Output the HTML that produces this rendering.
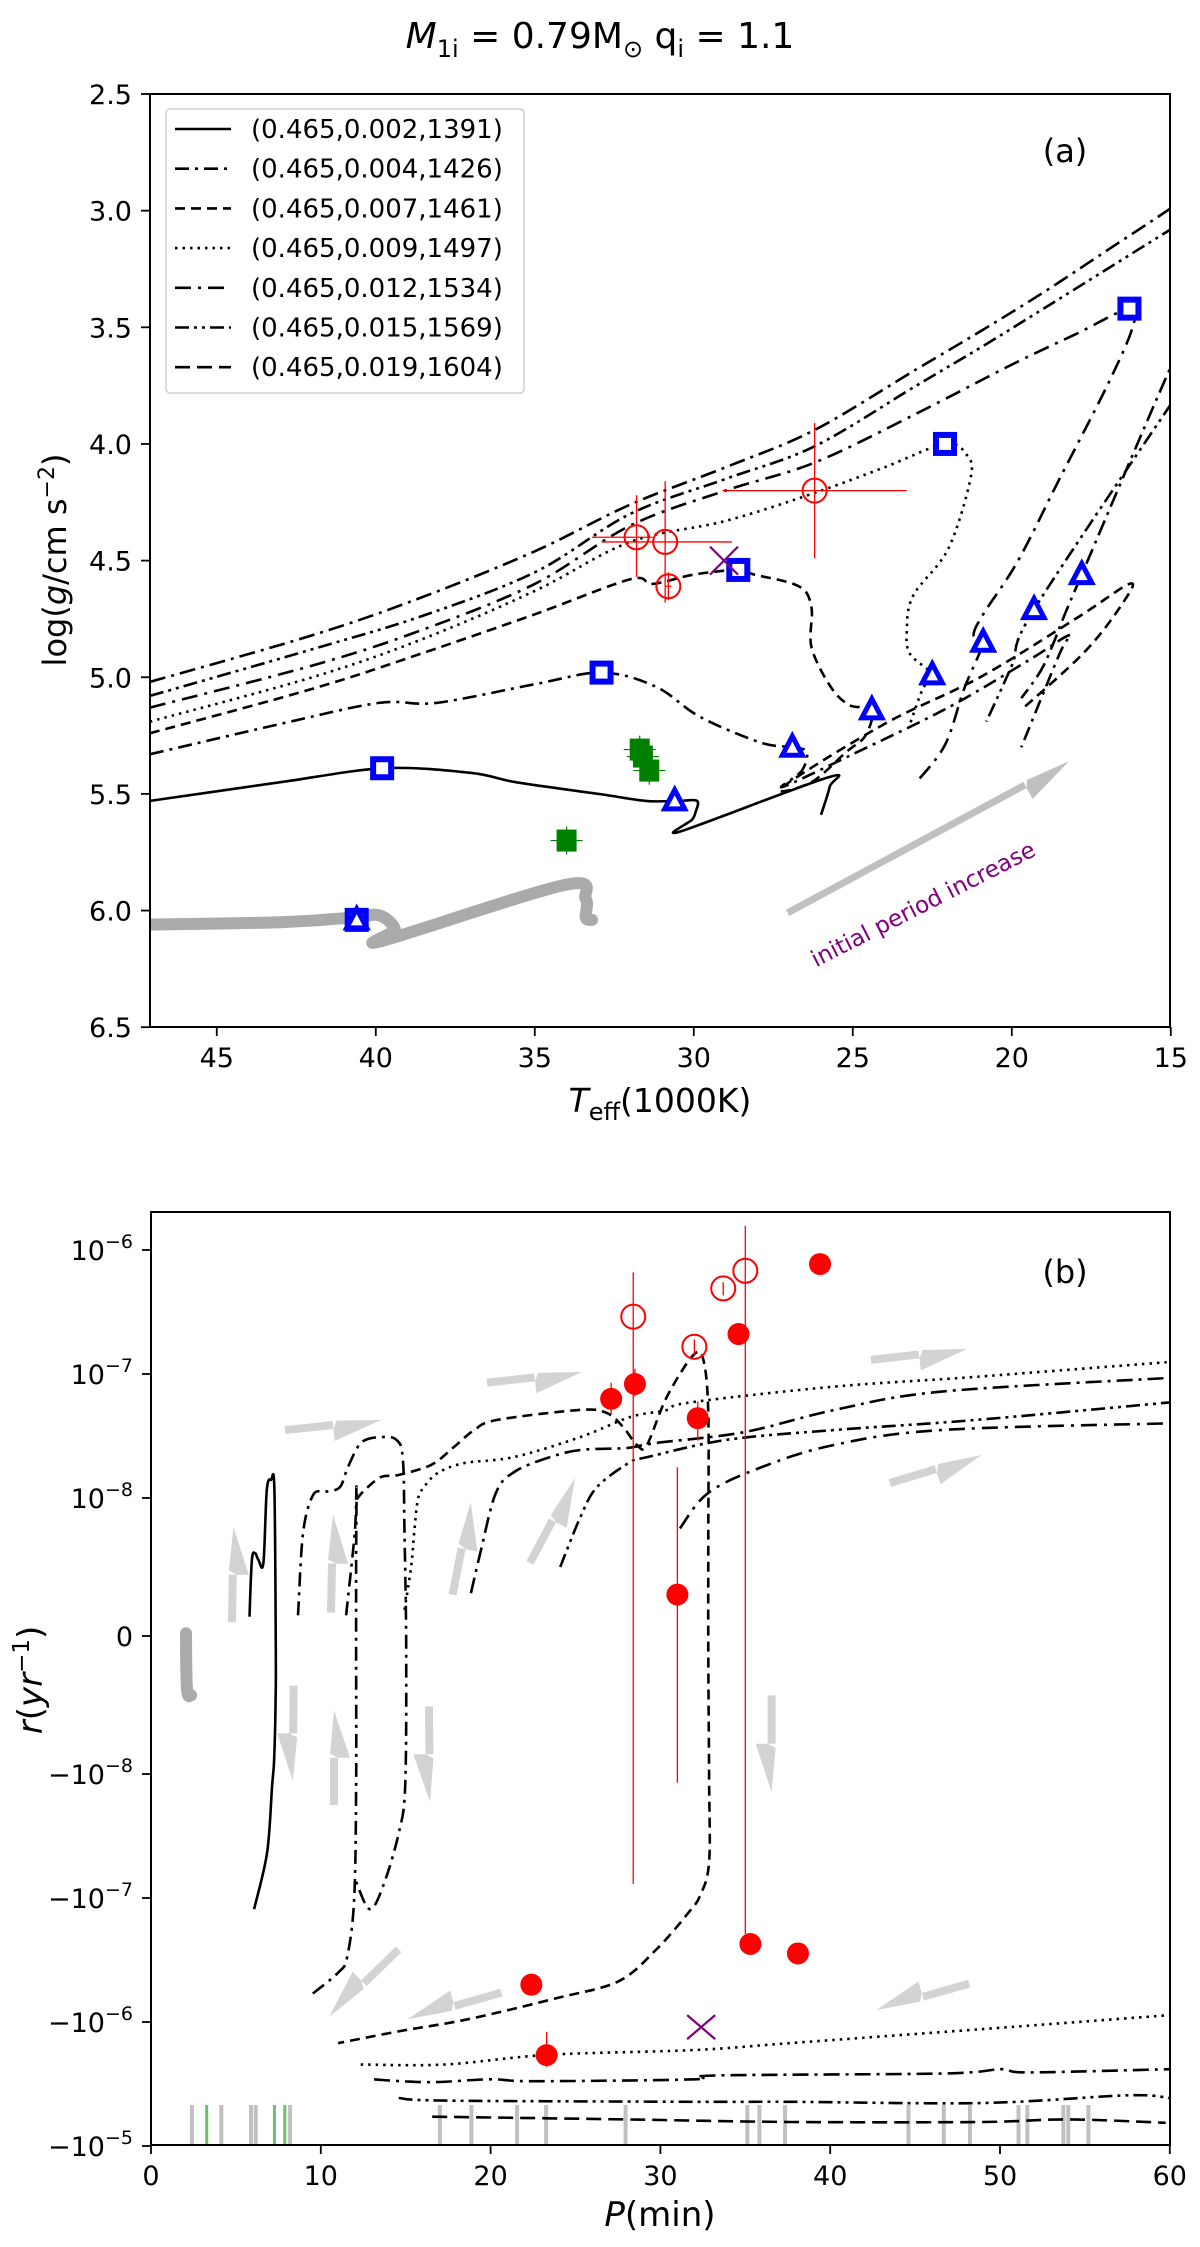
<!DOCTYPE html>
<html><head><meta charset="utf-8"><style>
html,body{margin:0;padding:0;background:#fff}
svg{display:block}
text{font-family:"DejaVu Sans","Liberation Sans",sans-serif}
</style></head><body>
<svg id="fig" width="1200" height="2247" viewBox="0 0 1200 2247" xmlns="http://www.w3.org/2000/svg">
<defs>
<clipPath id="clipTop"><rect x="150" y="94" width="1020" height="933"/></clipPath>
<clipPath id="clipBot"><rect x="151" y="1212" width="1019" height="933"/></clipPath>
</defs>
<text x="600" y="48" text-anchor="middle" font-size="36"><tspan font-style="italic">M</tspan><tspan font-size="24" dy="9">1i</tspan><tspan dy="-9"> = 0.79M</tspan><tspan font-size="24" dy="9">⊙</tspan><tspan dy="-9"> q</tspan><tspan font-size="24" dy="9">i</tspan><tspan dy="-9"> = 1.1</tspan></text>
<g id="panelTop"></g>
<g id="panelBot"></g>
</svg>
<script>
// ---------- Panel (a) data ----------
const topXTicks = [45,40,35,30,25,20,15];
const topYTicks = [2.5,3.0,3.5,4.0,4.5,5.0,5.5,6.0,6.5];
const legendLabels = ["(0.465,0.002,1391)","(0.465,0.004,1426)","(0.465,0.007,1461)","(0.465,0.009,1497)","(0.465,0.012,1534)","(0.465,0.015,1569)","(0.465,0.019,1604)"];
const trkSolidT = [47.1,43,39.74,37,35.6,33,31.5,30.5,29.9,29.95,30.05,30.4,25.8,25.73,26.0];
const trkSolidG = [5.53,5.45,5.39,5.41,5.45,5.50,5.53,5.53,5.53,5.58,5.61,5.66,5.43,5.47,5.59];
const trkDDT = [47.1,43,39.9,38.1,35,32.9,31.2,29.8,27.9,26.9,26.45,26.6,27.2,25,22,19.5,18.2,18.5,19.7];
const trkDDG = [5.33,5.2,5.11,5.11,5.03,4.98,5.04,5.17,5.28,5.30,5.32,5.40,5.47,5.33,5.13,4.93,4.82,4.9,5.3];
const trkL1T = [47.1,42,38.6,35,32,29,26.2,23,20.9,19,17,15,14.6,14.6,15,17.8,18.3,19.0,19.7];
const trkL1G = [5.02,4.82,4.66,4.46,4.26,4.10,3.94,3.68,3.51,3.35,3.17,2.99,2.95,3.6,3.67,4.56,4.72,4.95,5.09];
const trkL2T = [47.1,42,38.6,35,32,29,26.2,23,20.9,19,17,15,14.6,14.6,15,19.3,20.0,20.8];
const trkL2G = [5.08,4.88,4.74,4.55,4.30,4.15,4.01,3.75,3.58,3.42,3.25,3.08,3.05,3.75,3.83,4.71,4.95,5.19];
const trkL3T = [47.1,42,38.6,35,32,29,26.2,23,20,18,16.3,16.2,17,18.5,19.8,20.9,21.2,20.9,21.5,22.1,23.0];
const trkL3G = [5.13,4.95,4.80,4.6,4.35,4.2,4.08,3.87,3.66,3.53,3.42,3.5,3.75,4.15,4.5,4.73,4.82,4.85,5.05,5.29,5.45];
const trkDotT = [47.1,42,38.6,35,32,29,26.2,24,22.1,21.4,21.3,22,23.1,23.3,23.2,22.5,22.8,23.2];
const trkDotG = [5.19,5.0,4.84,4.63,4.42,4.33,4.21,4.1,4.0,4.05,4.15,4.45,4.65,4.8,4.9,4.99,5.05,5.2];
const trkDashT = [47.1,42,38.6,35,32,31.3,30,28.6,28.1,26.7,26.3,26.3,25.7,25.1,24.4,24.6,25.2,26.3,27.2,24,21,18,16.3,16.5,17.7,19.7];
const trkDashG = [5.24,5.05,4.90,4.73,4.58,4.60,4.56,4.54,4.56,4.61,4.70,4.87,5.04,5.12,5.14,5.25,5.32,5.45,5.47,5.2,5.0,4.75,4.6,4.68,4.89,5.14];
const grayT = [47.1,43,40.7,39.9,39.4,39.8,34.05,33.4,33.4,33.2];
const grayG = [6.06,6.05,6.03,6.02,6.08,6.13,5.89,5.95,6.03,6.04];
const squareT = [39.8,32.9,28.6,22.1,16.3,40.6];
const squareG = [5.39,4.98,4.54,4.0,3.42,6.04];
const triT = [30.6,26.9,24.4,22.5,20.9,19.3,17.8,40.6];
const triG = [5.53,5.30,5.14,4.99,4.85,4.71,4.56,6.04];
const obsT = [31.8,30.9,30.8,26.2];
const obsG = [4.40,4.42,4.61,4.20];
const obsTlo = [33.2,32.9,30.9,29.1];
const obsThi = [31.3,28.8,30.7,23.3];
const obsGlo = [4.22,4.16,4.55,3.91];
const obsGhi = [4.57,4.68,4.67,4.49];
const greenT = [31.7,31.6,31.4,34.0];
const greenG = [5.31,5.34,5.40,5.70];
const xMarkT = [29.05];
const xMarkG = [4.50];
const arrowA = [[27.05,6.01],[18.2,5.36]];

// ---------- Panel (b) data ----------
const botXTicks = [0,10,20,30,40,50,60];
const botYTicks = [1e-6,1e-7,1e-8,0,-1e-8,-1e-7,-1e-6,-1e-5];
const botYLabels = [["10","−6"],["10","−7"],["10","−8"],["0",""],["−10","−8"],["−10","−7"],["−10","−6"],["−10","−5"]];
const c1P = [5.80,5.94,6.13,6.33,6.62,6.82,7.07,7.27,7.35,7.34,7.25,7.13,6.84,6.07];
const c1R = [1.4e-9,5.5e-9,6.0e-9,5.5e-9,5.3e-9,1.16e-8,1.4e-8,1.16e-8,-1.0e-9,-4.6e-9,-9.0e-9,-1.25e-8,-4.3e-8,-1.23e-7];
const c2P = [8.66,8.96,9.55,10.25,11.12,11.6,12.39,13.55,14.44,14.83,14.93,15.03,14.97,14.59,13.67,12.88,12.08];
const c2R = [1.5e-9,7.5e-9,1.06e-8,1.12e-8,1.22e-8,1.78e-8,2.8e-8,3.1e-8,2.95e-8,2.1e-8,7.5e-9,-1.0e-9,-1.25e-8,-3.0e-8,-8.0e-8,-1.23e-7,-7.4e-8];
const c3P = [11.49,12.0,12.10,12.08,12.08,12.08,11.96,11.55,11.02,9.46];
const c3R = [1.5e-9,7.5e-9,1.23e-8,5.5e-9,-1.0e-9,-1.35e-8,-1.04e-7,-3.0e-7,-4.0e-7,-6.0e-7];
const c4P = [12.10,12.59,13.55,14.54,16.50,17.85,19.03,20.39,25.28,26.85,27.81,28.62,29.20,30.37,31.94,32.53,32.82,32.82,32.82,32.87,32.87,32.35,31.58,29.76,27.52,23.92,18.68,14.73,11.02];
const c4R = [9.9e-9,1.16e-8,1.48e-8,1.53e-8,1.85e-8,2.58e-8,3.53e-8,4.26e-8,5.13e-8,4.84e-8,3.73e-8,2.67e-8,2.67e-8,6.5e-8,1.42e-7,1.30e-7,4.84e-8,7.0e-9,-1.0e-9,-1.12e-8,-5.1e-8,-9.5e-8,-1.35e-7,-2.6e-7,-4.7e-7,-6.4e-7,-9.5e-7,-1.18e-6,-1.48e-6];
const c5P = [14.93,15.32,15.50,15.72,16.09,16.89,18.44,21.39,25.28,28.23,30.35,31.77,40.19,48.61,59.99];
const c5R = [1.9e-9,5.0e-9,7.5e-9,9.9e-9,1.23e-8,1.59e-8,1.91e-8,2.14e-8,3.10e-8,4.5e-8,5.1e-8,5.9e-8,7.9e-8,9.5e-8,1.25e-7];
const u2P = [18.84,19.43,20.31,21.39,23.34,25.28,28.03,29.68,34.94,40.19,46.49,59.99];
const u2R = [3.1e-9,6.2e-9,1.10e-8,1.62e-8,2.10e-8,2.44e-8,2.53e-8,2.77e-8,3.40e-8,5.1e-8,7.2e-8,9.3e-8];
const u3P = [24.10,25.28,26.28,28.23,29.26,33.88,40.19,48.61,59.99];
const u3R = [5.0e-9,8.6e-9,1.23e-8,1.95e-8,2.14e-8,2.94e-8,3.53e-8,4.26e-8,5.9e-8];
const u4P = [31.15,32.82,36.0,40.19,46.49,59.99];
const u4R = [7.8e-9,1.10e-8,1.78e-8,2.67e-8,3.53e-8,4.0e-8];
const l1P = [12.35,17.32,23.39,32.06,37.65,48.97,59.99];
const l1R = [-2.2e-6,-2.2e-6,-1.84e-6,-1.68e-6,-1.48e-6,-1.14e-6,-8.8e-7];
const l2P = [13.14,14.73,16.82,19.98,22.63,32.06,33.18,46.67,50.09,51.68,59.99];
const l2R = [-2.9e-6,-3.0e-6,-3.05e-6,-2.9e-6,-3.0e-6,-2.9e-6,-2.7e-6,-2.6e-6,-2.4e-6,-2.55e-6,-2.4e-6];
const l3P = [14.59,17.32,32.06,37.65,48.97,57.51,59.99];
const l3R = [-4.1e-6,-4.3e-6,-4.4e-6,-4.4e-6,-4.5e-6,-3.9e-6,-4.1e-6];
const l4P = [16.56,27.87,37.65,48.97,53.92,59.75];
const l4R = [-5.8e-6,-6.1e-6,-6.4e-6,-6.4e-6,-6.1e-6,-6.5e-6];
const grayBP = [2.06,2.12,2.36];
const grayBR = [2e-10,-3.9e-9,-4.3e-9];
const filledP = [27.1,28.5,32.2,34.6,39.4,31.0,35.3,38.1,22.4,23.3];
const filledR = [6.3e-8,8.3e-8,4.4e-8,2.1e-7,7.7e-7,3.0e-9,-2.35e-7,-2.8e-7,-5.0e-7,-1.85e-6];
const filledRlo = [4.8e-8,6.6e-8,2.9e-8,2.1e-7,7.7e-7,-1.18e-8,-2.35e-7,-2.8e-7,-6.1e-7,-2.3e-6];
const filledRhi = [8.5e-8,1.1e-7,6.0e-8,2.1e-7,7.7e-7,1.77e-8,-2.35e-7,-2.8e-7,-4.2e-7,-1.2e-6];
const openP = [28.4,32.0,33.7,35.0];
const openR = [2.9e-7,1.66e-7,4.9e-7,6.8e-7];
const openRlo = [-7.7e-8,1.4e-7,4.3e-7,-1.95e-7];
const openRhi = [6.6e-7,1.9e-7,5.5e-7,1.57e-6];
const xMarkP = [32.4];
const xMarkR = [-1.1e-6];
const grayBarP = [2.41,4.14,5.89,6.17,8.19,17.01,18.87,21.56,23.27,27.95,35.12,35.83,37.34,44.61,46.69,48.23,51.09,51.61,53.73,54.02,55.21];
const greenBarP = [3.28,7.27,7.88];
const arrowsB = [
 [[7.89,3.53e-8],[13.55,4.26e-8]],[[19.79,8.5e-8],[25.39,1.04e-7]],
 [[4.77,1.0e-9],[4.86,7.9e-9]],[[10.6,1.7e-9],[10.72,8.8e-9]],
 [[17.76,3.0e-9],[18.83,9.7e-9]],[[22.32,5.3e-9],[24.97,1.45e-8]],
 [[42.40,1.30e-7],[48.06,1.59e-7]],[[43.52,1.32e-8],[48.91,2.22e-8]],
 [[8.40,-3.6e-9],[8.35,-1.14e-8]],[[10.78,-1.78e-8],[10.78,-5.4e-9]],
 [[16.37,-5.1e-9],[16.43,-1.68e-8]],[[14.58,-2.6e-7],[10.49,-9.1e-7]],
 [[20.63,-5.8e-7],[15.12,-9.5e-7]],[[36.55,-4.3e-9],[36.55,-1.4e-8]],
 [[48.18,-4.9e-7],[42.73,-8.0e-7]]
];

// ---------- axis functions ----------
const NS = "http://www.w3.org/2000/svg";
const tX = T => 150 + (47.1 - T) * 31.8;
const tY = g => 94 + (g - 2.5) * 233.3;
const bX = P => 151 + P * 16.98;
function bY(r){
  const a = Math.abs(r);
  const t = a <= 1e-8 ? a / 1e-8 * 1.113 : 1.113 + Math.log10(a / 1e-8);
  return 1636 - Math.sign(r) * t * 124;
}
function el(parent, tag, attrs, txt){
  const n = document.createElementNS(NS, tag);
  for (const k in attrs) n.setAttribute(k, attrs[k]);
  if (txt !== undefined) n.textContent = txt;
  parent.appendChild(n);
  return n;
}
function pathD(xs, ys, fx, fy){
  const p = xs.map((v,i)=>[fx(v), fy(ys[i])]);
  let d = "M"+p[0][0].toFixed(1)+","+p[0][1].toFixed(1);
  for (let i=0;i<p.length-1;i++){
    const p0=p[Math.max(0,i-1)], p1=p[i], p2=p[i+1], p3=p[Math.min(p.length-1,i+2)];
    const c1x=p1[0]+(p2[0]-p0[0])/6, c1y=p1[1]+(p2[1]-p0[1])/6;
    const c2x=p2[0]-(p3[0]-p1[0])/6, c2y=p2[1]-(p3[1]-p1[1])/6;
    d += `C${c1x.toFixed(1)},${c1y.toFixed(1)} ${c2x.toFixed(1)},${c2y.toFixed(1)} ${p2[0].toFixed(1)},${p2[1].toFixed(1)}`;
  }
  return d;
}
const DASH = {solid:"", dd:"14,6,3,6", l1:"16,6,3,6", l2:"14,5,3,5,3,5", l3:"16,7,3,7", dot:"2.5,5", dash:"10,6", ldash:"15,7"};

const topG = document.getElementById("panelTop");
const botG = document.getElementById("panelBot");

function fancyArrow(g, x1, y1, x2, y2, color, w){
  const dx = x2-x1, dy = y2-y1, L = Math.hypot(dx,dy), ux = dx/L, uy = dy/L, nx = -uy, ny = ux;
  const hl = Math.min(50, L*0.5), hw = 16;
  const bx = x2-ux*hl, by = y2-uy*hl;
  return el(g,"path",{d:`M${x1-nx*w/2},${y1-ny*w/2} L${bx-nx*w/2},${by-ny*w/2} L${bx+nx*hw},${by+ny*hw} L${x2},${y2} L${bx-nx*w/2+ux*4},${by-ny*w/2+uy*4} L${bx+nx*w/2},${by+ny*w/2} L${x1+nx*w/2},${y1+ny*w/2} Z`, fill:color});
}

// ===== Panel (a) =====
const gA = el(topG,"g",{"clip-path":"url(#clipTop)"});
let node;
node = el(gA,"path",{d:pathD(grayT,grayG,tX,tY),fill:"none",stroke:"#aaaaaa","stroke-width":12,"stroke-linecap":"round","stroke-linejoin":"round"});


const topTracks = [
 [trkSolidT,trkSolidG,"solid","track-0.002"],[trkDDT,trkDDG,"dd","track-0.004"],
 [trkL1T,trkL1G,"l1","track-0.015"],[trkL2T,trkL2G,"l2","track-0.012"],
 [trkL3T,trkL3G,"l3","track-0.019b"],[trkDotT,trkDotG,"dot","track-0.009"],
 [trkDashT,trkDashG,"dash","track-0.007"]];
topTracks.forEach(t=>{
  const p = el(gA,"path",{d:pathD(t[0],t[1],tX,tY),fill:"none",stroke:"#000","stroke-width":2.6,"stroke-dasharray":DASH[t[2]],"stroke-linejoin":"round"});
  
  
});
node = fancyArrow(gA,tX(arrowA[0][0]),tY(arrowA[0][1]),tX(arrowA[1][0]),tY(arrowA[1][1]),"#c0c0c0",7);


squareT.forEach((T,i)=>{
  const s = el(gA,"rect",{x:tX(T)-9,y:tY(squareG[i])-9,width:18,height:18,fill:"#fff",stroke:"#0000ff","stroke-width":6});
  
  
});
triT.forEach((T,i)=>{
  const x=tX(T), y=tY(triG[i]);
  const s = el(gA,"path",{d:`M${x},${y-11} L${x+10},${y+8} L${x-10},${y+8} Z`,fill:"#fff",stroke:"#0000ff","stroke-width":5,"stroke-linejoin":"miter"});
  
  
});
greenT.forEach((T,i)=>{
  const x=tX(T), y=tY(greenG[i]);
  const s = el(gA,"rect",{x:x-10,y:y-11,width:20,height:22,fill:"#008000"});
  
  
  const eb = el(gA,"path",{d:`M${x-16},${y}H${x+16}M${x},${y-14}V${y+14}`,stroke:"#008000","stroke-width":1.2});
  
  
});
obsT.forEach((T,i)=>{
  const x=tX(T), y=tY(obsG[i]);
  const eb = el(gA,"path",{d:`M${tX(obsTlo[i])},${y}H${tX(obsThi[i])}M${x},${tY(obsGlo[i])}V${tY(obsGhi[i])}`,stroke:"#ff0000","stroke-width":1.3});
  
  
  const c = el(gA,"circle",{cx:x,cy:y,r:12,fill:"none",stroke:"#ff0000","stroke-width":2});
  
  
});
xMarkT.forEach((T,i)=>{
  const x=tX(T), y=tY(xMarkG[i]);
  const m = el(gA,"path",{d:`M${x-14},${y-14}L${x+14},${y+14}M${x-14},${y+14}L${x+14},${y-14}`,stroke:"#800080","stroke-width":2.2});
  
  
});
node = el(topG,"text",{x:923,y:912,"text-anchor":"middle","font-size":23,fill:"#800080",transform:"rotate(-27 923 904)"},"initial period increase");


node = el(topG,"rect",{x:150,y:94,width:1020,height:933,fill:"none",stroke:"#000","stroke-width":2});


topXTicks.forEach(v=>{
  const x=tX(v);
  el(topG,"line",{x1:x,y1:1027,x2:x,y2:1036,stroke:"#000","stroke-width":1.8});
  const t = el(topG,"text",{x:x,y:1067,"text-anchor":"middle","font-size":27},String(v));
  
  
});
topYTicks.forEach(v=>{
  const y=tY(v);
  el(topG,"line",{x1:141,y1:y,x2:150,y2:y,stroke:"#000","stroke-width":1.8});
  const t = el(topG,"text",{x:132,y:y+10,"text-anchor":"end","font-size":27},v.toFixed(1));
  
  
});
node = el(topG,"text",{x:660,y:1112,"text-anchor":"middle","font-size":33});
node.innerHTML = '<tspan font-style="italic">T</tspan><tspan font-size="24" dy="8">eff</tspan><tspan dy="-8">(1000K)</tspan>';


node = el(topG,"text",{x:0,y:0,"text-anchor":"middle","font-size":32,transform:"translate(66 560) rotate(-90)"});
node.innerHTML = 'log(<tspan font-style="italic">g</tspan>/cm s<tspan font-size="22" dy="-12">−2</tspan><tspan dy="12">)</tspan>';


node = el(topG,"text",{x:1065,y:162,"text-anchor":"middle","font-size":32},"(a)");


const lg = el(topG,"g",{});


el(lg,"rect",{x:166,y:109,width:358,height:284,rx:4,fill:"#fff","fill-opacity":0.85,stroke:"#d0d0d0","stroke-width":1.5});
const legStyles = ["solid","dd","dash","dot","l3","l2","ldash"];
legendLabels.forEach((lab,i)=>{
  const y = 129 + i*39.7;
  const ln = el(lg,"line",{x1:175,y1:y,x2:231,y2:y,stroke:"#000","stroke-width":2.6,"stroke-dasharray":DASH[legStyles[i]]});
  
  
  const t = el(lg,"text",{x:251,y:y+9,"font-size":26},lab);
  
  
});

// ===== Panel (b) =====
const gB = el(botG,"g",{"clip-path":"url(#clipBot)"});
arrowsB.forEach(a=>{
  const ar = fancyArrow(gB,bX(a[0][0]),bY(a[0][1]),bX(a[1][0]),bY(a[1][1]),"#d3d3d3",8);
  
  
});
node = el(gB,"path",{d:pathD(grayBP,grayBR,bX,bY),fill:"none",stroke:"#aaaaaa","stroke-width":12,"stroke-linecap":"round"});


grayBarP.forEach(P=>{
  const b = el(gB,"line",{x1:bX(P),y1:2105,x2:bX(P),y2:2145,stroke:"#c0c0c0","stroke-width":4});
  
  
});
greenBarP.forEach(P=>{
  const b = el(gB,"line",{x1:bX(P),y1:2105,x2:bX(P),y2:2145,stroke:"#6cbf6c","stroke-width":3});
  
  
});
const botTracks = [
 [c1P,c1R,"solid","rate-track-0.002"],[c2P,c2R,"dd","rate-track-0.004"],[c3P,c3R,"dd","rate-track-0.004b"],
 [c4P,c4R,"dash","rate-track-0.007"],[c5P,c5R,"dot","rate-track-0.009"],
 [u2P,u2R,"l1","rate-track-0.012"],[u3P,u3R,"l2","rate-track-0.015"],[u4P,u4R,"l3","rate-track-0.019"],
 [l1P,l1R,"dot","rate-track-neg-1"],[l2P,l2R,"l1","rate-track-neg-2"],[l3P,l3R,"l2","rate-track-neg-3"],[l4P,l4R,"ldash","rate-track-neg-4"]];
botTracks.forEach(t=>{
  const p = el(gB,"path",{d:pathD(t[0],t[1],bX,bY),fill:"none",stroke:"#000","stroke-width":2.6,"stroke-dasharray":DASH[t[2]],"stroke-linejoin":"round"});
  
  
});
openP.forEach((P,i)=>{
  const x=bX(P);
  const eb = el(gB,"line",{x1:x,y1:bY(openRlo[i]),x2:x,y2:bY(openRhi[i]),stroke:"#ff0000","stroke-width":1.3});
  
  
  const c = el(gB,"circle",{cx:x,cy:bY(openR[i]),r:12,fill:"none",stroke:"#ff0000","stroke-width":2});
  
  
});
filledP.forEach((P,i)=>{
  const x=bX(P);
  const eb = el(gB,"line",{x1:x,y1:bY(filledRlo[i]),x2:x,y2:bY(filledRhi[i]),stroke:"#ff0000","stroke-width":1.3});
  
  
  const c = el(gB,"ellipse",{cx:x,cy:bY(filledR[i]),rx:11,ry:11,fill:"#ff0000"});
  
  
});
xMarkP.forEach((P,i)=>{
  const x=bX(P), y=bY(xMarkR[i]);
  const m = el(gB,"path",{d:`M${x-14},${y-12}L${x+14},${y+12}M${x-14},${y+12}L${x+14},${y-12}`,stroke:"#800080","stroke-width":2.2});
  
  
});
node = el(botG,"rect",{x:151,y:1212,width:1019,height:933,fill:"none",stroke:"#000","stroke-width":2});


botXTicks.forEach(v=>{
  const x=bX(v);
  el(botG,"line",{x1:x,y1:2145,x2:x,y2:2154,stroke:"#000","stroke-width":1.8});
  const t = el(botG,"text",{x:x,y:2185,"text-anchor":"middle","font-size":27},String(v));
  
  
});
botYTicks.forEach((v,i)=>{
  const y=bY(v);
  el(botG,"line",{x1:142,y1:y,x2:151,y2:y,stroke:"#000","stroke-width":1.8});
  const lab = botYLabels[i];
  const t = el(botG,"text",{x:133,y:y+10,"text-anchor":"end","font-size":27});
  if (lab[1]) t.innerHTML = lab[0]+'<tspan font-size="19" dy="-12">'+lab[1]+'</tspan>';
  else t.textContent = lab[0];
  
  
});
node = el(botG,"text",{x:660,y:2226,"text-anchor":"middle","font-size":34});
node.innerHTML = '<tspan font-style="italic">P</tspan>(min)';


node = el(botG,"text",{x:0,y:0,"text-anchor":"middle","font-size":34,transform:"translate(42 1680) rotate(-90)"});
node.innerHTML = '<tspan font-style="italic">r</tspan>(<tspan font-style="italic">yr</tspan><tspan font-size="23" dy="-13">−1</tspan><tspan dy="13">)</tspan>';


node = el(botG,"text",{x:1065,y:1283,"text-anchor":"middle","font-size":32},"(b)");


</script>
</body></html>
